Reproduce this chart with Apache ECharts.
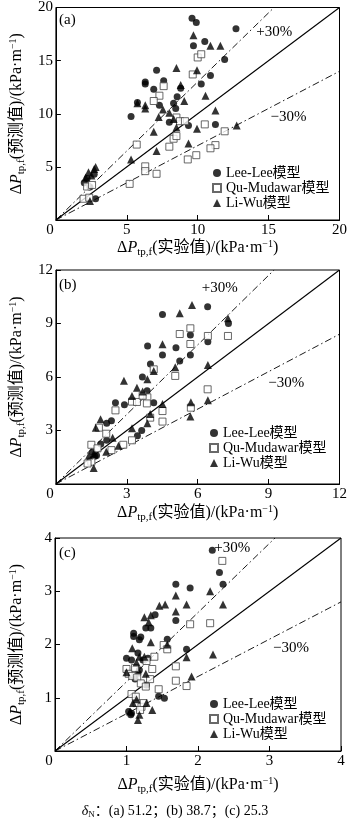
<!DOCTYPE html>
<html>
<head>
<meta charset="utf-8">
<script src="https://cdn.jsdelivr.net/npm/echarts@6/dist/echarts.min.js"></script>
<style>
html,body{margin:0;padding:0;background:#fff}
#chart{width:350px;height:818px}
</style>
</head>
<body>
<div id="chart"></div>
<script>
// panel labels and axis ranges
var panelTags = ['(a)', '(b)', '(c)'];
var axisMax = [20, 12, 4];
var axisStep = [5, 3, 1];
var ratios = [1, 1.3, 0.7];
var modelNames = ['Lee-Lee模型', 'Qu-Mudawar模型', 'Li-Wu模型'];

// (a) deltaN = 51.2
var leeA = [[9.6,19.0],[9.9,18.6],[12.7,18.0],[9.7,16.4],[10.5,16.8],[11.9,15.1],[10.9,13.6],[7.1,14.1],[7.6,13.1],[6.3,13.0],[6.3,12.8],[6.9,12.3],[8.8,12.4],[10.25,12.8],[5.75,11.05],[7.3,10.8],[8.55,11.6],[8.3,11.0],[8.45,10.5],[5.3,9.75],[8.0,9.2],[9.35,8.9],[11.25,9.0],[2.0,3.5],[2.2,3.9],[2.4,3.1],[2.7,4.3],[2.8,2.0]];
var quA = [[10.0,15.3],[10.25,15.6],[9.65,13.7],[7.6,12.6],[7.3,11.7],[6.9,11.2],[8.5,9.65],[8.75,9.3],[9.1,9.3],[10.5,9.0],[11.9,8.35],[5.7,7.1],[8.0,6.9],[8.3,7.65],[8.5,7.9],[11.25,7.05],[10.9,6.75],[9.9,6.1],[9.3,5.7],[6.3,5.05],[6.3,4.6],[7.1,4.35],[5.2,3.4],[2.2,3.15],[2.55,3.3],[1.95,2.0],[2.35,2.1]];
var liA = [[9.7,17.4],[10.9,16.4],[11.6,16.4],[8.5,14.3],[9.95,14.1],[8.8,12.7],[5.75,11.0],[6.3,10.8],[6.3,10.5],[7.55,10.4],[7.25,9.7],[8.0,10.1],[8.3,9.5],[9.05,11.2],[10.55,11.7],[11.25,10.3],[8.5,8.7],[9.95,8.6],[12.75,8.9],[6.9,8.3],[9.35,7.2],[7.1,6.5],[5.3,5.7],[2.1,4.0],[2.3,4.5],[2.5,4.2],[2.7,4.8],[2.8,5.0],[2.4,1.8]];

// (b) deltaN = 38.7
var leeB = [[6.42,9.94],[7.3,9.0],[4.51,9.51],[3.88,7.74],[5.08,7.64],[4.51,7.23],[5.69,8.36],[6.43,7.98],[5.69,7.23],[5.24,6.9],[4.0,6.73],[3.66,6.0],[3.86,5.23],[4.14,4.55],[2.52,4.55],[2.9,4.45],[2.15,3.4],[2.35,3.55],[3.63,3.0],[3.45,2.7],[1.9,2.25],[2.15,2.45],[1.55,1.8],[1.65,1.55],[1.72,1.6]];
var quB = [[5.69,8.73],[5.24,8.41],[5.69,7.85],[6.43,8.3],[7.28,8.3],[6.42,5.31],[5.71,4.28],[5.05,6.06],[4.14,6.43],[3.22,4.62],[3.43,4.6],[3.87,4.86],[3.85,4.52],[3.67,4.95],[2.52,4.13],[4.51,4.09],[4.51,3.5],[3.99,3.72],[1.82,3.16],[2.13,2.82],[1.5,2.2],[1.76,2.0],[1.5,1.25],[1.34,1.15],[2.35,1.9],[2.85,2.2],[3.22,2.45]];
var liB = [[5.76,10.04],[5.24,9.57],[7.28,9.29],[4.51,7.83],[5.05,6.54],[4.14,6.34],[6.43,6.67],[2.88,5.79],[3.87,5.87],[3.43,5.4],[3.67,5.18],[3.22,4.93],[4.51,4.49],[5.71,4.58],[6.43,4.69],[3.99,3.93],[3.87,3.4],[3.22,3.12],[1.89,3.63],[1.69,3.16],[2.4,2.6],[2.65,2.15],[2.13,1.81],[1.4,1.6],[1.6,0.9],[5.69,3.78],[1.6,1.7]];

// (c) deltaN = 25.3
var leeC = [[2.2,3.77],[2.3,3.35],[2.35,3.13],[1.69,3.13],[1.89,3.06],[1.69,2.45],[1.4,2.56],[1.27,2.31],[1.34,2.31],[1.1,2.21],[1.1,2.15],[1.18,2.09],[1.2,2.14],[1.57,2.1],[1.0,1.74],[1.07,1.71],[1.16,1.84],[1.23,1.71],[1.3,1.74],[1.84,1.91],[1.18,1.52],[1.12,1.35],[1.28,1.24],[1.45,1.03],[1.53,0.99],[1.03,0.74],[1.07,0.71],[1.06,0.68],[1.16,1.46]];
var quC = [[2.34,3.57],[2.17,2.4],[1.89,2.38],[1.52,1.99],[1.57,1.91],[1.39,1.77],[1.28,1.69],[1.36,1.54],[1.69,1.59],[1.69,1.32],[1.84,1.22],[1.0,1.54],[1.03,1.45],[1.08,1.41],[1.12,1.56],[1.15,1.38],[1.33,1.35],[1.2,1.27],[1.27,1.21],[1.45,1.16],[1.07,1.07],[1.14,0.9],[1.21,0.83],[1.13,1.02],[1.24,0.9],[1.19,0.77]];
var liC = [[2.17,3.0],[2.35,2.75],[1.69,2.92],[1.84,2.75],[1.69,2.62],[1.46,2.73],[1.54,2.75],[1.34,2.55],[1.25,2.51],[1.31,2.42],[1.34,2.04],[1.57,2.0],[1.08,1.93],[1.18,1.77],[1.25,1.77],[1.14,1.66],[1.84,1.76],[2.21,1.81],[1.91,1.4],[1.0,1.48],[1.27,1.45],[1.28,0.9],[1.36,0.77],[1.18,0.68],[1.16,0.58],[1.14,0.97],[1.05,0.74],[1.09,0.9]];

var notesA = [[15.4,17.7,'+30%'],[16.4,9.7,'−30%']];
var notesB = [[6.93,11.0,'+30%'],[9.75,5.66,'−30%']];
var notesC = [[2.48,3.81,'+30%'],[3.3,1.93,'−30%']];

var footnote = '：(a) 51.2；(b) 38.7；(c) 25.3';

var panelData = [[leeA, quA, liA], [leeB, quB, liB], [leeC, quC, liC]];
var panelNotes = [notesA, notesB, notesC];

// layout
var gridTop = [5, 270, 538];
var gridH = [215, 214, 213];
var xNameGap = [14, 19, 24];
var legendTop = [161, 421, 692];
var legendLeft = [207, 204, 204];

var serif = "'Liberation Serif','Noto Sans CJK SC'";
var nameRich = {
    d: {fontFamily: serif, fontSize: 16, color: '#000'},
    p: {fontFamily: serif, fontSize: 16, fontStyle: 'italic', color: '#000'},
    s: {fontFamily: serif, fontSize: 11, padding: [9, 0, 0, 0], color: '#000'},
    t: {fontFamily: serif, fontSize: 16, color: '#000'},
    u: {fontFamily: serif, fontSize: 10, padding: [0, 0, 8, 0], color: '#000'}
};
function axisName(word) {
    return '{d|Δ}{p|P}{s|tp,f}{t|(' + word + ')/(kPa·m}{u|−1}{t|)}';
}

var symbols = ['circle', 'rect', 'triangle'];
var symbolSizes = [7, 7, 8];
var symbolStyles = [
    {color: '#000'},
    {color: '#fff', borderColor: '#444', borderWidth: 1},
    {color: '#000'}
];

var grids = [], xAxes = [], yAxes = [], series = [], legends = [], titles = [];

panelTags.forEach(function (tag, i) {
    var max = axisMax[i];
    grids.push({left: 48, width: 293, top: gridTop[i], height: gridH[i],
        show: true, borderColor: '#000', borderWidth: 1, backgroundColor: 'transparent'});
    xAxes.push({
        gridIndex: i, type: 'value', min: 0, max: max, interval: axisStep[i],
        axisLine: {lineStyle: {color: '#000', width: 1}},
        axisTick: {inside: true, length: 5, lineStyle: {color: '#000'}},
        splitLine: {show: false},
        axisLabel: {
            color: '#000', fontFamily: serif, fontSize: 15, margin: 3,
            formatter: function (v) { return v === 0 ? '{z|0}' : String(v); },
            rich: {z: {fontFamily: serif, fontSize: 15, color: '#000', padding: [0, 12, 0, 0]}}
        },
        name: axisName('实验值'), nameLocation: 'middle', nameGap: xNameGap[i],
        nameTextStyle: {rich: nameRich}
    });
    yAxes.push({
        gridIndex: i, type: 'value', min: 0, max: max, interval: axisStep[i],
        axisLine: {lineStyle: {color: '#000', width: 1}},
        axisTick: {inside: true, length: 5, lineStyle: {color: '#000'}},
        splitLine: {show: false},
        axisLabel: {
            color: '#000', fontFamily: serif, fontSize: 15, margin: 3,
            formatter: function (v) { return v === 0 ? '' : String(v); }
        },
        name: axisName('预测值'), nameLocation: 'middle', nameRotate: 90, nameGap: 28,
        nameTextStyle: {rich: nameRich}
    });

    // reference lines y = x, +30%, -30%
    ratios.forEach(function (r) {
        var xe = Math.min(max, max / r);
        series.push({
            type: 'line', xAxisIndex: i, yAxisIndex: i, silent: true,
            symbol: 'none', data: [[0, 0], [xe, xe * r]],
            lineStyle: {color: '#000', width: r === 1 ? 1.1 : 0.9,
                type: r === 1 ? 'solid' : [7, 3, 1.5, 3]},
            z: 1
        });
    });

    panelData[i].forEach(function (pts, k) {
        series.push({
            name: modelNames[k], type: 'scatter', xAxisIndex: i, yAxisIndex: i,
            symbol: symbols[k], symbolSize: symbolSizes[k],
            itemStyle: symbolStyles[k], data: pts, z: 3
        });
    });

    series.push({
        type: 'scatter', xAxisIndex: i, yAxisIndex: i, silent: true,
        symbolSize: 0, itemStyle: {color: '#000', opacity: 1},
        data: panelNotes[i],
        label: {show: true, position: 'inside', color: '#000', opacity: 1,
            fontFamily: serif, fontSize: 15,
            formatter: function (p) { return p.value[2]; }},
        z: 4
    });

    legends.push({
        orient: 'vertical', left: legendLeft[i], top: legendTop[i],
        itemWidth: 8, itemHeight: 8, itemGap: 1, selectedMode: false,
        textStyle: {color: '#000', fontFamily: serif, fontSize: 14},
        data: modelNames
    });

    titles.push({text: tag, left: 54, top: gridTop[i] + 3,
        textStyle: {color: '#000', fontFamily: serif, fontSize: 15, fontWeight: 'normal'}});
});

titles.push({
    text: '{i|δ}{n|N}{t|' + footnote + '}', left: 'center', top: 798,
    textStyle: {
        fontWeight: 'normal',
        rich: {
            i: {fontFamily: serif, fontSize: 14, fontStyle: 'italic', fontWeight: 'normal', color: '#000'},
            n: {fontFamily: serif, fontSize: 9, fontWeight: 'normal', padding: [7, 0, 0, 0], color: '#000'},
            t: {fontFamily: serif, fontSize: 14, fontWeight: 'normal', color: '#000'}
        }
    }
});

var myChart = echarts.init(document.getElementById('chart'));
myChart.setOption({
    backgroundColor: '#fff',
    animation: false,
    title: titles,
    legend: legends,
    grid: grids,
    xAxis: xAxes,
    yAxis: yAxes,
    series: series
});
</script>
</body>
</html>
